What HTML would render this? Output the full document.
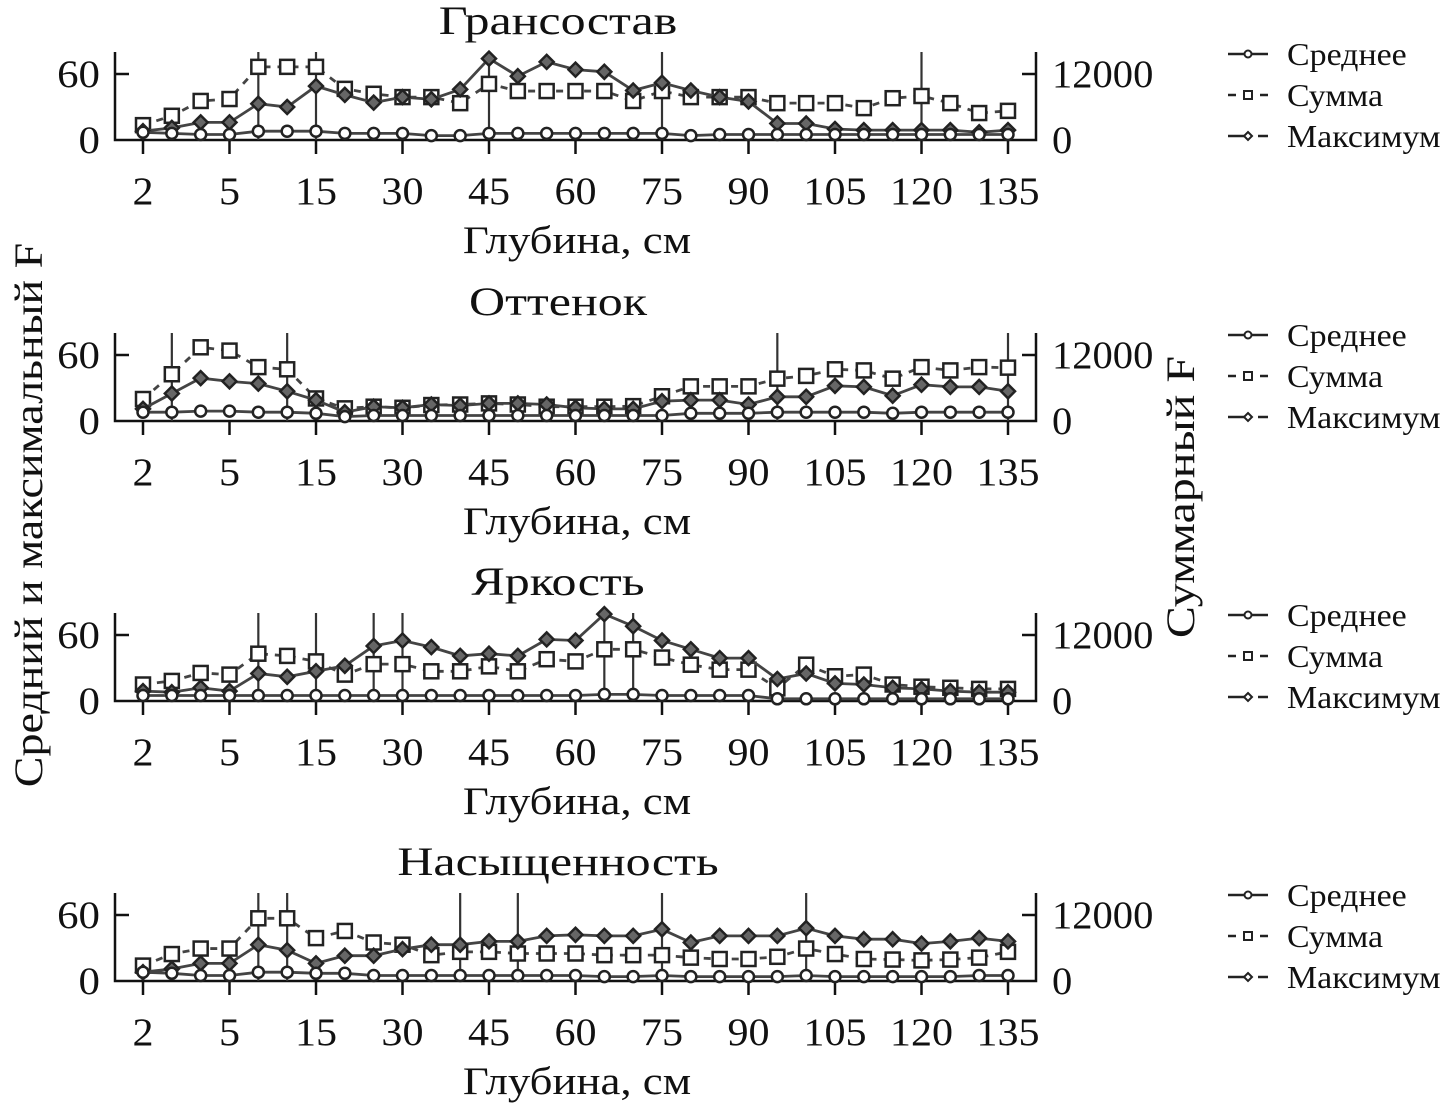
<!DOCTYPE html>
<html><head><meta charset="utf-8"><style>
html,body{margin:0;padding:0;background:#fff;}
svg{display:block;}
text{font-family:"Liberation Serif",serif;fill:#111;}
</style></head><body>
<svg id="chart" width="1445" height="1107" viewBox="0 0 1445 1107" xmlns="http://www.w3.org/2000/svg">
<text x="0" y="0" font-size="40" text-anchor="middle" transform="translate(42,515) rotate(-90) scale(1.15,1)">Средний и максимальный F</text>
<text x="0" y="0" font-size="40" text-anchor="middle" transform="translate(1194,497) rotate(-90) scale(1.2,1)">Суммарный F</text>
</svg>
<script>
const categories = ["2","3","4","5","7","10","15","20","25","30","35","40","45","50","55","60","65","70","75","80","85","90","95","100","105","110","115","120","125","130","135"];
const tickLabels = ["2","5","15","30","45","60","75","90","105","120","135"];
const panelTitles = ["Грансостав","Оттенок","Яркость","Насыщенность"];
const legendLabels = ["Среднее","Сумма","Максимум"];
const leftTicks = [0,60];
const rightTicks = [0,12000];

const mean1 = [7,6,5,5,8,8,8,6,6,6,4,4,6,6,6,6,6,6,6,4,5,5,5,5,5,5,5,5,5,5,5];
const sum1 = [2700,4400,7100,7450,13300,13300,13300,9300,8400,7800,7800,6700,10200,8900,8900,8900,8900,7100,8900,7800,7800,7800,6700,6700,6700,5800,7600,8000,6700,4900,5300];
const max1 = [8,11,16,16,33,30,49,41,34,39,37,46,74,58,71,64,62,45,52,45,39,35,15,15,10,9,9,9,9,7,9];
const spikes1 = [4,6,12,18,27];

const mean2 = [8,8,9,9,8,8,7,4,5,5,5,5,5,5,5,5,5,5,5,7,7,7,8,8,8,8,7,8,8,8,8];
const sum2 = [4000,8500,13400,12800,9800,9400,4100,2300,2600,2400,2900,3000,3200,3000,2600,2600,2600,2700,4500,6300,6300,6300,7700,8200,9400,9200,7700,9800,9200,9800,9700];
const max2 = [11,25,39,36,34,27,19,8,13,12,15,14,16,16,15,12,11,11,18,19,19,15,22,22,32,31,23,33,31,31,27];
const spikes2 = [1,5,22,30];

const mean3 = [5,5,5,5,5,5,5,5,5,5,5,5,5,5,5,5,6,6,5,5,5,5,2,2,2,2,2,2,2,2,2];
const sum3 = [3000,3650,5100,4800,8600,8200,7200,4800,6700,6700,5400,5400,6300,5400,7600,7200,9400,9400,7900,6600,5700,5700,2300,6600,4500,4800,3000,2600,2400,2200,2200];
const max3 = [9,8,12,9,25,22,27,32,50,55,49,41,43,41,56,55,79,68,55,47,39,39,20,25,16,15,12,11,9,8,8];
const spikes3 = [4,6,8,9,16,17];

const mean4 = [8,7,5,5,8,8,7,7,5,5,5,5,5,5,5,5,4,4,5,4,4,4,4,5,4,4,4,4,4,5,5];
const sum4 = [2800,4900,5900,5900,11400,11400,7800,9100,7000,6600,4700,5300,5300,5000,5000,5000,4700,4700,4700,4250,4000,4000,4400,5900,4900,4000,3900,3750,3900,4250,5300];
const max4 = [8,11,16,16,33,28,16,23,23,29,33,33,36,36,41,42,41,41,47,35,41,41,41,48,41,38,38,34,36,39,36];
const spikes4 = [4,5,11,13,18,23];

const means = [mean1,mean2,mean3,mean4];
const sums = [sum1,sum2,sum3,sum4];
const maxs = [max1,max2,max3,max4];
const spikes = [spikes1,spikes2,spikes3,spikes4];

const NS = "http://www.w3.org/2000/svg";
const svg = document.getElementById("chart");
function mk(tag, attrs, parent){const e=document.createElementNS(NS,tag);for(const k in attrs)e.setAttribute(k,attrs[k]);(parent||svg).appendChild(e);return e;}
function txt(parent,x,y,size,anchor,sx,content){
  const t = mk("text",{x:x,y:y,"font-size":size,"text-anchor":anchor,transform:`translate(${x},0) scale(${sx},1) translate(${-x},0)`},parent);
  t.textContent = content;
  return t;
}

const X0 = 143, DX = (1008-143)/(categories.length-1);
const AX_L = 115, AX_R = 1036, PH = 88;
const LMAX = 80, RMAX = 16000;
const bottoms = [140,421,701,981];
function xs(i){return X0+i*DX;}
const STROKE = "#222";

function marker(g,type,x,y){
  let m;
  if(type==="circle"){ m = mk("circle",{cx:x,cy:y,r:5.5,fill:"#fff",stroke:STROKE,"stroke-width":2.5},g); }
  else if(type==="square"){ m = mk("rect",{x:x-7,y:y-7,width:14,height:14,fill:"#fff",stroke:STROKE,"stroke-width":2.5},g); }
  else { m = mk("polygon",{points:`${x},${y-7} ${x+7},${y} ${x},${y+7} ${x-7},${y}`,fill:"#666",stroke:STROKE,"stroke-width":2.5},g); }
  return m;
}

for(let p=0;p<4;p++){
  const b = bottoms[p], top = b-PH;
  const yl = v => b - v/LMAX*PH;
  const yr = v => b - v/RMAX*PH;
  const g = mk("g",{});
  
  

  const t = txt(g,558,b-106,40,"middle",1.25,panelTitles[p]);
  
  

  const ax = mk("path",{d:`M${AX_L},${top} V${b} H${AX_R} V${top}`,fill:"none",stroke:"#111","stroke-width":2.5},g);
  
  

  for(let k=0;k<leftTicks.length;k++){
    const y = yl(leftTicks[k]);
    if(leftTicks[k]>0) mk("line",{x1:AX_L,x2:AX_L+14,y1:y,y2:y,stroke:"#111","stroke-width":2.5},g);
    const tl = txt(g,100,y+13,39,"end",1.1,String(leftTicks[k]));
    
    
  }
  for(let k=0;k<rightTicks.length;k++){
    const y = yr(rightTicks[k]);
    if(rightTicks[k]>0) mk("line",{x1:AX_R-14,x2:AX_R,y1:y,y2:y,stroke:"#111","stroke-width":2.5},g);
    const tr = txt(g,1052,y+13,39,"start",1.04,String(rightTicks[k]));
    
    
  }
  for(let k=0;k<tickLabels.length;k++){
    const i = categories.indexOf(tickLabels[k]);
    const x = xs(i);
    mk("line",{x1:x,x2:x,y1:b,y2:b+14,stroke:"#111","stroke-width":2.5},g);
    const tx = txt(g,x,b+64,39,"middle",1.08,tickLabels[k]);
    
    
  }
  const xt = txt(g,577,b+113,39,"middle",1.15,"Глубина, см");
  
  

  for(const i of spikes[p]){
    const s = mk("line",{x1:xs(i),x2:xs(i),y1:top,y2:b,stroke:"#333","stroke-width":2.2},g);
    
    
  }

  const series = [
    {vals:sums[p],f:yr,dash:"7,7",m:"square",name:"sum"},
    {vals:maxs[p],f:yl,dash:"",m:"diamond",name:"max"},
    {vals:means[p],f:yl,dash:"",m:"circle",name:"mean"}
  ];
  for(const s of series){
    const pts = s.vals.map((v,i)=>xs(i)+","+s.f(v)).join(" ");
    const line = mk("polyline",{points:pts,fill:"none",stroke:"#444","stroke-width":2.8,"stroke-dasharray":s.dash},g);
    
    
    s.vals.forEach((v,i)=>{
      const m = marker(g,s.m,xs(i),s.f(v));
      
      
    });
  }

  const lg = mk("g",{},g);
  
  
  for(let k=0;k<3;k++){
    const ly = top + 2 + k*41;
    const e = mk("g",{},lg);
    
    
    if(k===0){ mk("line",{x1:1228,x2:1268,y1:ly,y2:ly,stroke:"#222","stroke-width":2.5},e);
      mk("circle",{cx:1248,cy:ly,r:3.5,fill:"#fff",stroke:"#222","stroke-width":2},e);}
    else if(k===1){ mk("line",{x1:1228,x2:1268,y1:ly,y2:ly,stroke:"#222","stroke-width":2.5,"stroke-dasharray":"8,8"},e);
      mk("rect",{x:1244,y:ly-4,width:8,height:8,fill:"#fff",stroke:"#222","stroke-width":2},e);}
    else { mk("line",{x1:1228,x2:1252,y1:ly,y2:ly,stroke:"#222","stroke-width":2.5},e);
      mk("line",{x1:1258,x2:1268,y1:ly,y2:ly,stroke:"#222","stroke-width":2.5},e);
      mk("polygon",{points:`1248,${ly-4} 1252,${ly} 1248,${ly+4} 1244,${ly}`,fill:"#fff",stroke:"#222","stroke-width":2},e);}
    txt(e,1287,ly+11,32,"start",1.06,legendLabels[k]);
  }
}
</script>
</body></html>
